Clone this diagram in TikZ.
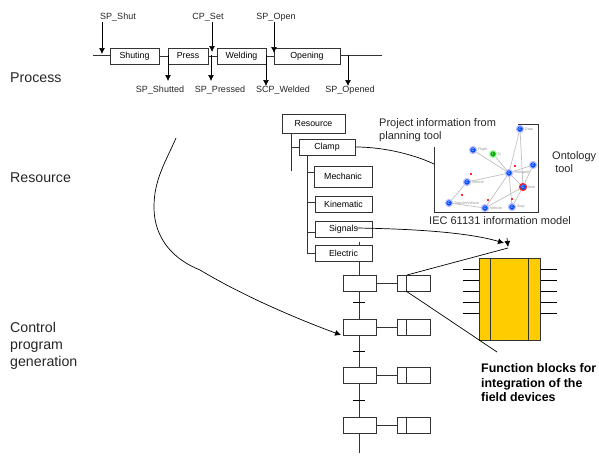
\documentclass[tikz,border=0pt]{standalone}
\usepackage{fontspec}
\setmainfont{Liberation Sans}
\usetikzlibrary{arrows.meta}

\definecolor{boxline}{HTML}{333333}
\definecolor{blockfill}{HTML}{FFCC00}

\tikzset{
  procbox/.style={draw=boxline, line width=0.8pt, minimum height=16pt, inner sep=0pt, font=\fontsize{8.8}{10}\selectfont},
  smalllabel/.style={inner sep=0pt, font=\fontsize{9}{10}\selectfont, text=black!85},
  biglabel/.style={inner sep=0pt, anchor=west, align=left, font=\fontsize{14.2}{17}\selectfont, text=black!85},
  midlabel/.style={inner sep=0pt, anchor=west, align=left, font=\fontsize{11}{13}\selectfont, text=black!85},
  sigarrow/.style={-{Latex[length=6pt,width=6pt]}, line width=0.7pt},
  treeline/.style={draw=boxline, line width=0.8pt},
  concept/.style={circle, fill=blue!70!cyan, draw=blue!25, line width=1.2pt, minimum size=7pt, inner sep=0pt, text=white, font=\fontsize{4}{4}\selectfont},
  reddot/.style={fill=red!85, minimum size=2.5pt, inner sep=0pt},
  graphedge/.style={draw=black!25, line width=0.7pt},
  stepbox/.style={procbox, minimum width=33pt},
  actionbox/.style={procbox, minimum width=33pt},
  tinylabel/.style={inner sep=0pt, font=\fontsize{3.6}{4}\selectfont, text=black!45, anchor=west},
}

\begin{document}
\begin{tikzpicture}[x=1pt,y=-1pt]
        \useasboundingbox (0,0) rectangle (599,455);

        % Row labels
        \node[biglabel] (process) at (10,78) {Process};
        \node[biglabel] (resource) at (10,178) {Resource};
        \node[biglabel] (control) at (10,346) {Control\\program\\generation};

        % Process line
        \coordinate (linestart) at (93,55);
        \coordinate (lineend) at (382,55);
        \node[procbox, minimum width=49pt] (shuting) at (134.5,56) {Shuting};
        \node[procbox, minimum width=40pt] (press) at (188,56) {Press};
        \node[procbox, minimum width=49pt] (welding) at (241.5,56) {Welding};
        \node[procbox, minimum width=66pt] (opening) at (307,56) {Opening};
        \draw[treeline] (linestart) -- (shuting.west |- linestart);
        \draw[treeline] (shuting.east) -- (press.west);
        \draw[treeline] (press.east) -- (welding.west);
        \draw[treeline] (welding.east) -- (opening.west);
        \draw[treeline] (opening.east |- lineend) -- (lineend);

        % Signals into the process
        \node[smalllabel] (spshut) at (118,17) {SP\_Shut};
        \node[smalllabel] (cpset) at (208,17) {CP\_Set};
        \node[smalllabel] (spopen) at (276,17) {SP\_Open};
        \coordinate (inshut) at (102,54);
        \coordinate (inset) at (212,52);
        \coordinate (inopen) at (274,53);
        \draw[sigarrow] (inshut |- spshut.south) ++(0,1) -- (inshut);
        \draw[sigarrow] (inset |- spshut.south) ++(0,1) -- (inset);
        \draw[sigarrow] (inopen |- spshut.south) ++(0,1) -- (inopen);

        % Signals out of the process
        \node[smalllabel] (spshutted) at (160,90) {SP\_Shutted};
        \node[smalllabel] (sppressed) at (220,90) {SP\_Pressed};
        \node[smalllabel] (scpwelded) at (283,90) {SCP\_Welded};
        \node[smalllabel] (spopened) at (350,90) {SP\_Opened};
        \coordinate (outshutted) at (168,55);
        \coordinate (outpressed) at (211,55);
        \coordinate (outwelded) at (266,55);
        \coordinate (outopened) at (348,55);
        \draw[sigarrow] (outshutted) -- (outshutted |- 0,81);
        \draw[sigarrow] (outpressed) -- (outpressed |- 0,81);
        \draw[sigarrow] (outwelded) -- (outwelded |- 0,86);
        \draw[sigarrow] (outopened) -- (outopened |- 0,86);

        % Resource tree
        \node[procbox, minimum width=63pt, minimum height=19pt] (resbox) at (313.5,123.5) {Resource};
        \node[procbox, minimum width=56pt] (clamp) at (327,147) {Clamp};
        \node[procbox, minimum width=58pt, minimum height=21pt] (mechanic) at (343,176.5) {Mechanic};
        \node[procbox, minimum width=57pt] (kinematic) at (343.5,204) {Kinematic};
        \node[procbox, minimum width=57pt] (signals) at (343.5,229) {Signals};
        \node[procbox, minimum width=57pt] (electric) at (343.5,253) {Electric};
        \coordinate (restrunk) at (291,171);
        \coordinate (clamptrunk) at (307,155);
        \draw[treeline] (restrunk |- resbox.south) -- (restrunk);
        \draw[treeline] (restrunk |- clamp.west) -- (clamp.west);
        \draw[treeline] (clamptrunk) -- (clamptrunk |- electric.west) -- (electric.west);
        \draw[treeline] (clamptrunk |- 0,172) -- (mechanic.west |- 0,172);
        \draw[treeline] (clamptrunk |- 0,202) -- (kinematic.west |- 0,202);
        \draw[treeline] (clamptrunk |- 0,232) -- (signals.west |- 0,232);

        % Ontology view
        \coordinate (ontotop) at (518,124);
        \coordinate (ontocorner) at (538,212);
        \coordinate (ontoleft) at (434,147);
        \node[concept] (cdata) at (520,129) {C};
        \node[concept] (cflight) at (473,150) {C};
        \node[concept, fill=green!70!black, draw=green!30] (ione) at (493,154) {I};
        \node[concept] (cright) at (533,165) {C};
        \node[concept] (ccentre) at (509,173) {C};
        \node[concept] (cmiddle) at (467,182) {C};
        \node[concept, draw=red!85, line width=1.2pt] (cred) at (523,187) {C};
        \node[concept] (cleft) at (449,203) {C};
        \node[concept] (cbottom) at (485,208) {C};
        \node[concept] (cstop) at (512,207) {C};
        \foreach \a/\b in {ccentre/cdata, cred/cdata, ccentre/cflight, ccentre/ione, ccentre/cright,
            ccentre/cmiddle, ccentre/cred, ccentre/cstop, ccentre/cbottom, cmiddle/cleft,
            cleft/cbottom, cred/cbottom, cred/cstop, cred/cright}
          \draw[graphedge] (\a) -- (\b);
        \node[tinylabel] at (525,129) {Data};
        \node[tinylabel] at (478,150) {Flight};
        \node[tinylabel] at (498,154) {I1};
        \node[tinylabel] at (514,173) {Transport};
        \node[tinylabel] at (472,182) {Vehicle};
        \node[tinylabel] at (454,203) {TransferVehicle};
        \node[tinylabel] at (490,208) {Vehicle};
        \node[tinylabel] at (517,207) {Stop};
        \node[tinylabel] at (528,187) {Item};
        \node[reddot] (dotone) at (515,166) {};
        \node[reddot] (dottwo) at (471,174) {};
        \node[reddot] (dotthree) at (462,195) {};
        \node[reddot] (dotfour) at (512,199) {};
        \node[reddot] (dotfive) at (488,200) {};
        \draw[treeline] (ontotop) -- (ontotop -| ontocorner) -- (ontocorner) -- (ontocorner -| ontoleft) -- (ontoleft);

        % Texts around the ontology view
        \node[midlabel] (project) at (379,130.5) {Project information from\\planning tool};
        \node[midlabel] (ontology) at (552,162.5) {Ontology\\\ tool};
        \node[midlabel] (iec) at (429,221) {IEC 61131 information model};

        % Step chain
        \node[stepbox] (stepa) at (359.5,283) {};
        \node[stepbox] (stepb) at (359.5,327) {};
        \node[stepbox] (stepc) at (359.5,375.5) {};
        \node[stepbox] (stepd) at (359.5,425) {};
        \coordinate (chainend) at (359,453);
        \coordinate (chaintick) at (359.5,242);
        \draw[treeline] (chaintick) -- (electric.north -| chaintick);
        \draw[treeline] (electric.south -| stepa) -- (stepa);
        \draw[treeline] (stepa) -- (stepb);
        \draw[treeline] (stepb) -- (stepc);
        \draw[treeline] (stepc) -- (stepd);
        \draw[treeline] (stepd) -- (chainend -| stepd);
        \foreach \y in {302,351,400}
          \draw[line width=0.7pt] (353,\y) -- (365,\y);

        % Action boxes
        \foreach \n/\y in {a/283,b/327,c/375.5,d/425} {
          \node[actionbox] (action\n) at (413.5,\y) {};
          \draw[treeline] (406,\y-8) -- (406,\y+8);
          \draw[treeline] (step\n.east) -- (action\n.west);
        }

        % Function block
        \foreach \y in {269,280,291,302,313} {
          \draw[line width=0.7pt] (463,\y) -- (557,\y);
        }
        \node[draw=boxline, line width=0.8pt, fill=blockfill, minimum width=61pt, minimum height=82pt, inner sep=0pt] (block) at (509.5,299) {};
        \draw[treeline] (490,258) -- (490,340);
        \draw[treeline] (528,258) -- (528,340);
        \node[inner sep=0pt, anchor=west, align=left, font=\bfseries\fontsize{12.4}{14.5}\selectfont] (fbtext) at (481,383) {Function blocks for\\integration of the\\field devices};

        % Zoom lines to the block
        \coordinate (zoomtop) at (508,248);
        \coordinate (zoombottom) at (497,352);
        \draw[line width=0.7pt] (407,275) -- (zoomtop);
        \draw[line width=0.7pt] (406,291) -- (zoombottom);

        % Curves between the levels
        \coordinate (curvestart) at (176,138);
        \draw[line width=0.7pt] (clamp.east) .. controls (385,147) and (415,155) .. (ontoleft |- 0,164);
        \draw[sigarrow] (357,228) .. controls (420,229) and (470,233) .. (504,243);
        \draw[sigarrow] (507,238) -- (508,247);
        \draw[sigarrow] (curvestart) .. controls (165,163) and (154,180) .. (154,207)
          .. controls (154,240) and (175,260) .. (200,270)
          .. controls (245,297) and (300,320) .. (341,335);
      \end{tikzpicture}
\end{document}
